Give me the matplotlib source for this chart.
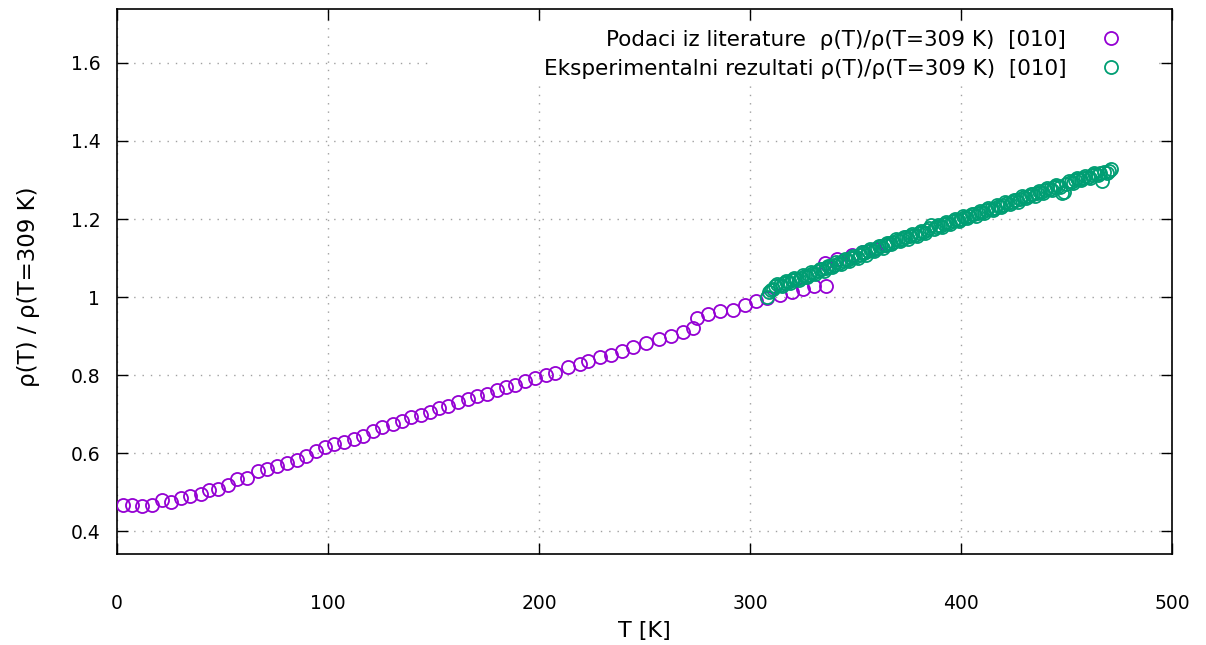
import numpy as np
import matplotlib
matplotlib.use("Agg")
import matplotlib.pyplot as plt
from matplotlib.patches import Rectangle

# literature data rho(T)/rho(309 K)
lit_T = [2.7, 7.0, 12.0, 16.7, 21.2, 25.6, 30.2, 34.6, 39.7, 43.8, 48.0, 52.8, 57.0, 61.5,
         66.7, 71.2, 76.0, 80.4, 85.2, 89.4, 94.3, 98.6, 103.0, 107.7, 112.5, 116.7, 121.3,
         125.8, 130.7, 134.9, 139.3, 143.9, 148.3, 152.8, 157.1, 161.5, 166.2, 170.8, 175.2,
         179.9, 184.3, 188.6, 193.4, 198.1, 203.3, 207.6, 213.9, 219.4, 223.1, 228.9, 234.0,
         239.2, 244.7, 250.7, 257.0, 262.4, 268.4, 273.1, 274.7, 280.2, 285.8, 292.1, 297.6,
         302.8, 308.0, 314.2, 319.7, 325.0, 330.5, 336.0, 335.5, 341.1, 348.2, 353.7, 359.2,
         364.5]
lit_r = [0.467, 0.467, 0.466, 0.467, 0.481, 0.475, 0.486, 0.491, 0.495, 0.507, 0.509, 0.519,
         0.533, 0.538, 0.555, 0.561, 0.567, 0.574, 0.584, 0.593, 0.606, 0.616, 0.623, 0.630,
         0.636, 0.645, 0.656, 0.667, 0.676, 0.684, 0.692, 0.699, 0.705, 0.716, 0.722, 0.731,
         0.739, 0.748, 0.752, 0.761, 0.769, 0.775, 0.785, 0.793, 0.801, 0.805, 0.821, 0.829,
         0.836, 0.848, 0.853, 0.863, 0.872, 0.883, 0.892, 0.901, 0.910, 0.922, 0.946, 0.957,
         0.964, 0.968, 0.979, 0.989, 0.998, 1.005, 1.013, 1.020, 1.028, 1.028, 1.087, 1.097,
         1.107, 1.115, 1.124, 1.133]

# experimental data rho(T)/rho(309 K)
exp_T = [308, 310, 312, 314, 316, 318, 320, 322, 324, 326, 328, 330, 332, 334, 336, 338,
         340, 342, 344, 346, 348, 350, 352, 354, 356, 358, 360, 362, 364, 366, 368, 370,
         372, 374, 376, 378, 380, 382, 384, 386, 388, 390, 392, 394, 396, 398, 400, 402,
         404, 406, 408, 410, 412, 414, 416, 418, 420, 422, 424, 426, 428, 430, 432, 434,
         436, 438, 440, 442, 444, 446, 448, 450, 452, 454, 456, 458, 460, 462, 464, 466,
         467, 468, 470, 471,
         309, 311, 313, 315, 317, 319, 321, 323, 325, 327, 329, 331, 333, 335, 337, 339,
         341, 343, 345, 347, 349, 351, 353, 355, 357, 359, 361, 363, 365, 367, 369, 371,
         373, 375, 377, 379, 381, 383, 385, 387, 389, 391, 393, 395, 397, 399, 401, 403,
         405, 407, 409, 411, 413, 415, 417, 419, 421, 423, 425, 427, 429, 431, 433, 435,
         437, 439, 441, 443, 445, 447, 449, 451, 453, 455, 457, 459, 461, 463, 465, 469]
exp_r = [1.000, 1.018, 1.028, 1.032, 1.035, 1.039, 1.043, 1.047, 1.050, 1.054, 1.058, 1.062,
         1.067, 1.071, 1.075, 1.079, 1.083, 1.088, 1.092, 1.096, 1.100, 1.104, 1.108, 1.113,
         1.117, 1.121, 1.125, 1.130, 1.134, 1.138, 1.142, 1.146, 1.149, 1.153, 1.157, 1.160,
         1.164, 1.168, 1.172, 1.186, 1.179, 1.183, 1.187, 1.190, 1.194, 1.198, 1.201, 1.205,
         1.208, 1.212, 1.215, 1.219, 1.222, 1.226, 1.229, 1.233, 1.237, 1.241, 1.244, 1.248,
         1.252, 1.256, 1.260, 1.263, 1.267, 1.270, 1.274, 1.278, 1.281, 1.285, 1.267, 1.291,
         1.295, 1.299, 1.303, 1.306, 1.309, 1.312, 1.315, 1.319, 1.297, 1.321, 1.324, 1.327,
         1.012, 1.020, 1.034, 1.029, 1.041, 1.037, 1.049, 1.044, 1.057, 1.052, 1.064, 1.060,
         1.073, 1.068, 1.081, 1.076, 1.090, 1.085, 1.099, 1.093, 1.106, 1.101, 1.115, 1.109,
         1.123, 1.118, 1.132, 1.126, 1.140, 1.135, 1.148, 1.143, 1.155, 1.150, 1.163, 1.157,
         1.170, 1.165, 1.176, 1.174, 1.185, 1.179, 1.193, 1.187, 1.200, 1.195, 1.207, 1.202,
         1.214, 1.209, 1.221, 1.216, 1.228, 1.223, 1.235, 1.230, 1.243, 1.238, 1.250, 1.245,
         1.258, 1.253, 1.265, 1.260, 1.272, 1.267, 1.280, 1.274, 1.287, 1.281, 1.270, 1.297,
         1.292, 1.305, 1.300, 1.311, 1.306, 1.317, 1.312, 1.318]

x_ticks = [0, 100, 200, 300, 400, 500]
y_ticks = [0.4, 0.6, 0.8, 1.0, 1.2, 1.4, 1.6]
y_ticklabels = ["0.4", "0.6", "0.8", "1", "1.2", "1.4", "1.6"]

lab_lit = "Podaci iz literature  ρ(T)/ρ(T=309 K)  [010]"
lab_exp = "Eksperimentalni rezultati ρ(T)/ρ(T=309 K)  [010]"

plt.rcParams['font.family'] = ['DejaVu Sans']

fig = plt.figure(figsize=(12.06, 6.45), dpi=100)
ax = fig.add_axes([0.097, 0.141, 0.8748, 0.845])

ax.plot(lit_T, lit_r, 'o', mfc='none', mec='#9400d3', ms=9.4, mew=1.3, label=lab_lit, zorder=3)
ax.plot(exp_T, exp_r, 'o', mfc='none', mec='#009e73', ms=9.4, mew=1.3, label=lab_exp, zorder=3)

ax.set_xlim(0, 500)
ax.set_ylim(0.342, 1.738)
ax.set_xticks(x_ticks)
ax.set_yticks(y_ticks)
ax.set_yticklabels(y_ticklabels)

ax.set_axisbelow(True)
ax.grid(True, color='#a0a0a0', linestyle=(0, (1, 5)), linewidth=1.0)
ax.tick_params(direction='in', length=8, width=1.0, top=True, right=True, labelsize=13.5)
ax.tick_params(axis='x', pad=29)
ax.tick_params(axis='y', pad=12)
for s in ax.spines.values():
    s.set_linewidth(1.2)

ax.set_xlabel("T [K]", fontsize=16)
ax.set_ylabel("ρ(T) / ρ(T=309 K)", fontsize=16.5)
ax.xaxis.set_label_coords(0.5, -0.123)
ax.yaxis.set_label_coords(-0.073, 0.49)

# opaque key area (hides grid behind the key)
ax.add_patch(Rectangle((0.297, 0.866), 0.688, 0.11, transform=ax.transAxes,
                       facecolor='white', edgecolor='none', zorder=1))

leg = ax.legend(loc='upper right', bbox_to_anchor=(0.963, 0.962), markerfirst=False,
                frameon=False, fontsize=15.5, handletextpad=1.1, labelspacing=0.42,
                borderaxespad=0, borderpad=0)

fig.savefig("out.png", dpi=100)
